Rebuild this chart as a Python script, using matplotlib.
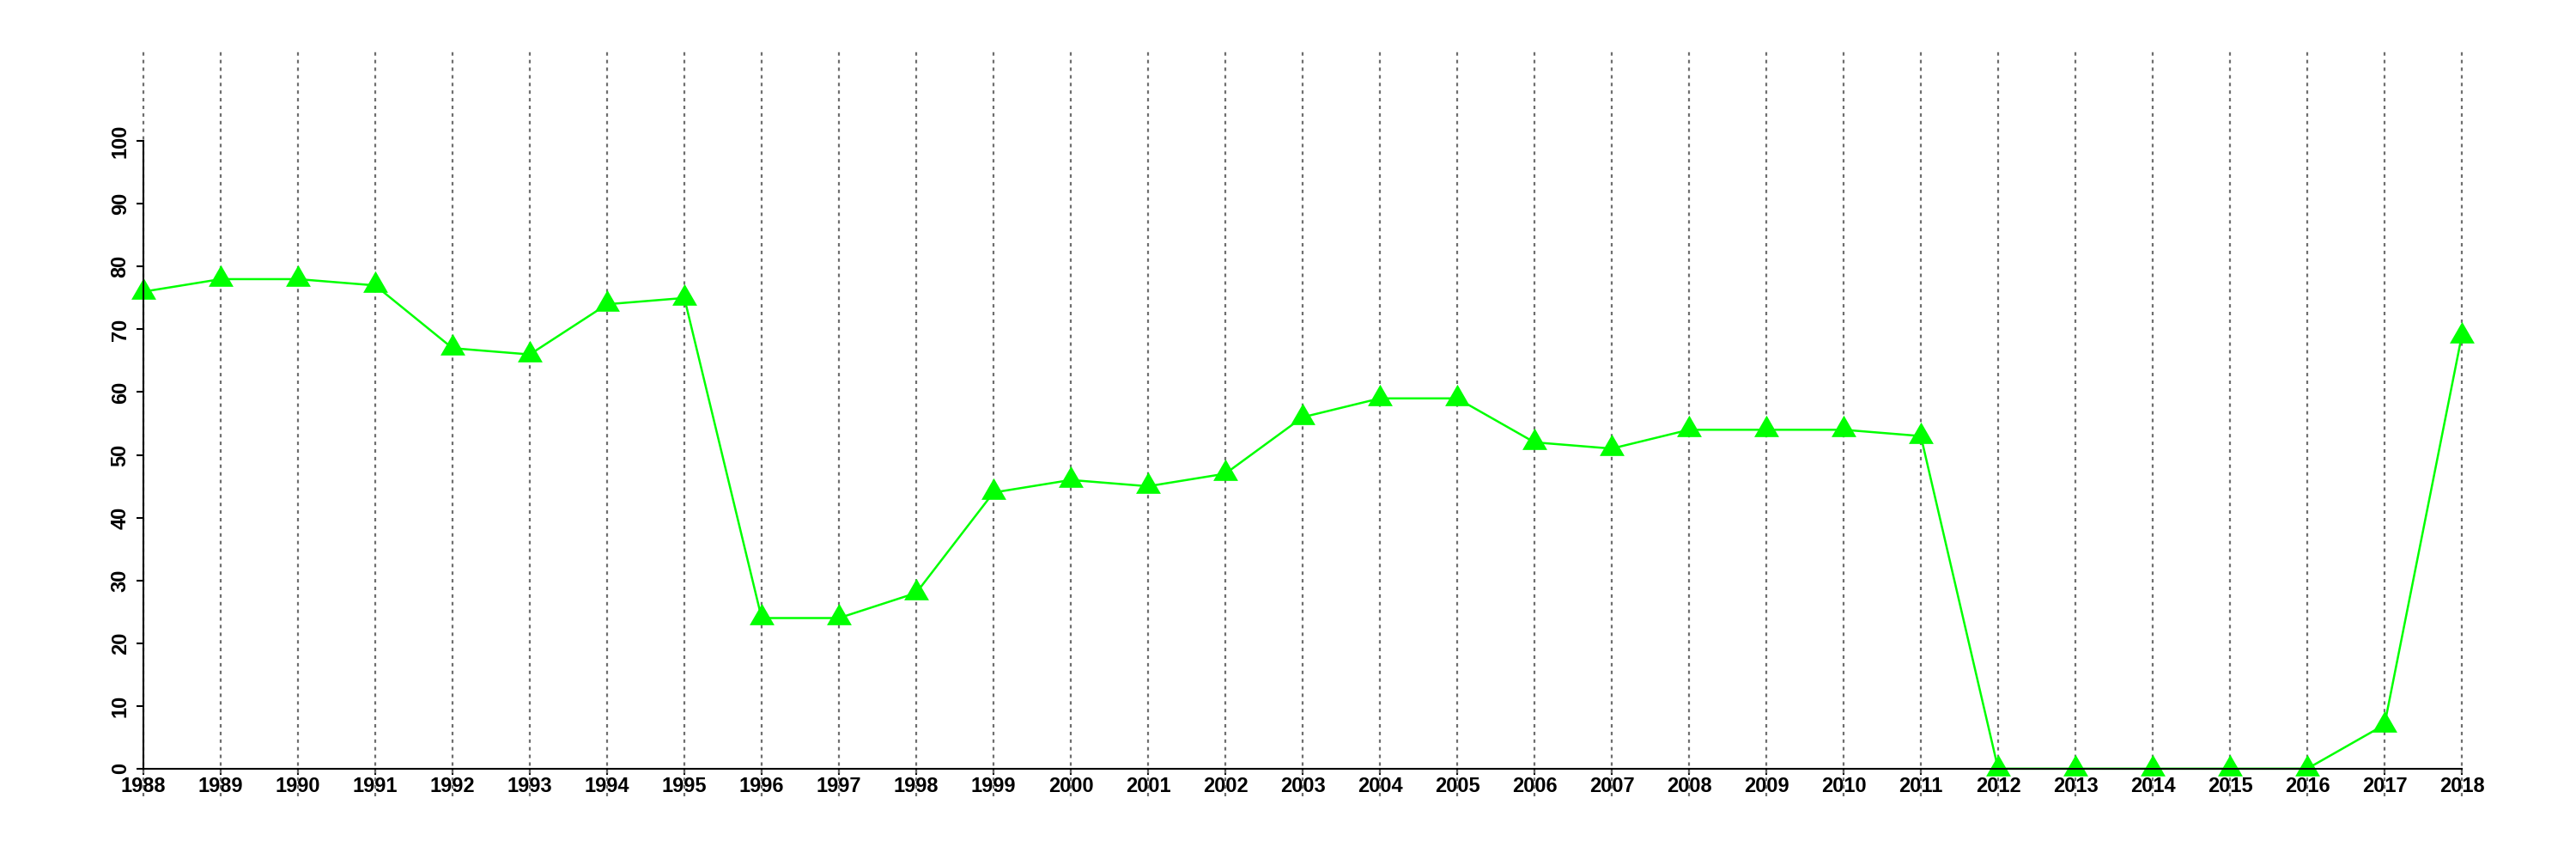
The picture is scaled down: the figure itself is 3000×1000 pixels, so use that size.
import numpy as np
import matplotlib
matplotlib.use('Agg')
import matplotlib.pyplot as plt

# data
years = list(range(1988, 2019))
values = [76, 78, 78, 77, 67, 66, 74, 75, 24, 24, 28, 44, 46, 45, 47, 56,
          59, 59, 52, 51, 54, 54, 54, 53, 0, 0, 0, 0, 0, 7, 69]
yticks = list(range(0, 101, 10))

plt.rcParams['font.family'] = ['Liberation Sans', 'DejaVu Sans']
plt.rcParams['font.weight'] = 'bold'

fig = plt.figure(figsize=(30, 10), dpi=100)
ax = fig.add_axes([59 / 3000, 73 / 1000, 2916 / 3000, 868 / 1000])
ax.set_xlim(1986.8, 2019.2)
ax.set_ylim(-4.4, 114.4)

# dotted vertical guides at each year
ax.vlines(years, -4.4, 114.4, colors='#6e6e6e', linewidth=1.6,
          linestyles=(0, (1.8, 2.2)), zorder=2)

# equilateral triangle marker centred on its centroid
tri = [(0, 1), (-0.866, -0.5), (0.866, -0.5)]
ax.plot(years, values, color='#00ff00', linewidth=1.8, marker=tri,
        markersize=24, markerfacecolor='#00ff00', markeredgewidth=0,
        zorder=3, clip_on=False)

for s in ['top', 'right']:
    ax.spines[s].set_visible(False)
ax.spines['bottom'].set_position(('data', 0))
ax.spines['bottom'].set_bounds(1988, 2018)
ax.spines['left'].set_position(('data', 1988))
ax.spines['left'].set_bounds(0, 100)
for s in ['bottom', 'left']:
    ax.spines[s].set_linewidth(1.5)
    ax.spines[s].set_zorder(4)

ax.set_xticks(years)
ax.set_xticklabels([str(y) for y in years], fontsize=17, fontweight='bold')
ax.set_yticks(yticks)
ax.set_yticklabels([str(v) for v in yticks], fontsize=17, fontweight='bold',
                   rotation=90, va='center')
ax.tick_params(axis='x', length=5, width=1.5, pad=1.5)
ax.tick_params(axis='y', length=6, width=1.5, pad=5)
ax.patch.set_visible(False)

fig.savefig('out.png', dpi=100, facecolor='white')
